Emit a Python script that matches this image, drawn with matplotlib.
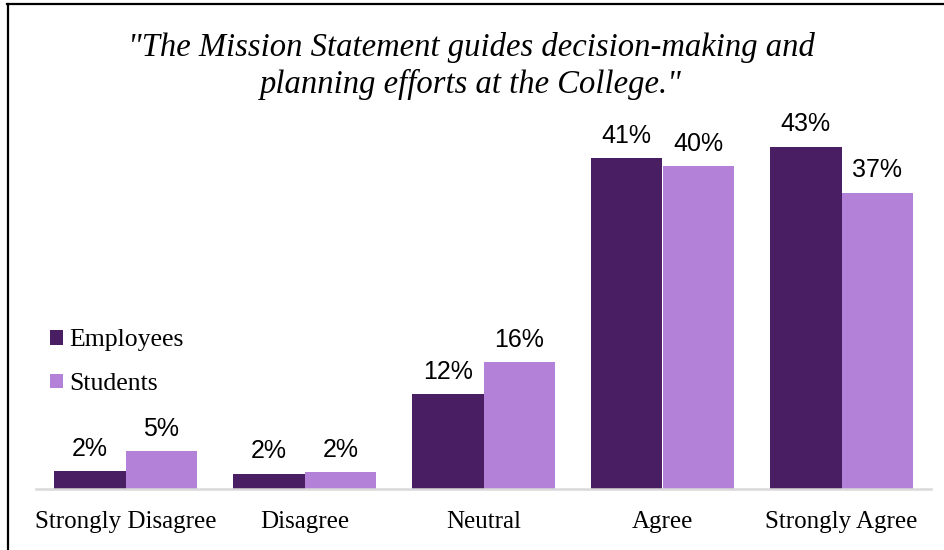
import matplotlib
matplotlib.use("Agg")
import matplotlib.pyplot as plt
from matplotlib.lines import Line2D
import numpy as np

categories = ["Strongly Disagree", "Disagree", "Neutral", "Agree", "Strongly Agree"]
employees = [2.2, 1.9, 11.8, 41.2, 42.6]
students = [4.7, 2.1, 15.8, 40.2, 36.9]
series_names = ["Employees", "Students"]
title_text = '"The Mission Statement guides decision-making and\nplanning efforts at the College."'

emp_color = "#4A1E62"
stu_color = "#B382D8"
serif = ["Liberation Serif", "DejaVu Serif"]

W, H = 944, 550
fig = plt.figure(figsize=(W / 100, H / 100), dpi=100)

def px(x0, y0, x1, y1):
    # pixel box (from top-left) -> figure fraction rect
    return [x0 / W, 1 - y1 / H, (x1 - x0) / W, (y1 - y0) / H]

ax = fig.add_axes(px(36, 87.25, 931, 489))
x = np.arange(len(categories))
bw = 0.4
b1 = ax.bar(x - bw / 2, employees, bw, color=emp_color, label=series_names[0])
b2 = ax.bar(x + bw / 2, students, bw, color=stu_color, label=series_names[1])

for bars, vals in ((b1, employees), (b2, students)):
    for r, v in zip(bars, vals):
        ax.annotate(f"{v:.0f}%", (r.get_x() + r.get_width() / 2, v),
                    xytext=(0, 11), textcoords="offset points",
                    ha="center", va="baseline", fontsize=18,
                    family="Liberation Sans", color="black")

ax.set_xlim(-0.5, len(categories) - 0.5)
ax.set_ylim(0, 50)
ax.set_yticks([])
for s in ("top", "right", "left"):
    ax.spines[s].set_visible(False)
ax.spines["bottom"].set_color("#D9D9D9")
ax.spines["bottom"].set_linewidth(1.8)
ax.set_xticks(x)
ax.set_xticklabels(categories, family=serif, fontsize=18)
ax.tick_params(axis="x", length=0, pad=16)

leg = ax.legend(loc="upper left", bbox_to_anchor=(-0.01, 0.455), frameon=False,
                prop={"family": serif, "size": 18.5}, handlelength=0.5,
                handleheight=0.5, handletextpad=0.25, labelspacing=0.85)

fig.text(471 / W, 1 - 66 / H, title_text, ha="center", va="center",
         family=serif, style="italic", fontsize=23.5, linespacing=1.22)

# outer frame
fig.add_artist(Line2D([7 / W, 1], [1 - 4 / H, 1 - 4 / H], color="black", lw=1.6))
fig.add_artist(Line2D([8 / W, 8 / W], [0, 1 - 4 / H], color="black", lw=1.6))

fig.savefig("out.png", dpi=100)
